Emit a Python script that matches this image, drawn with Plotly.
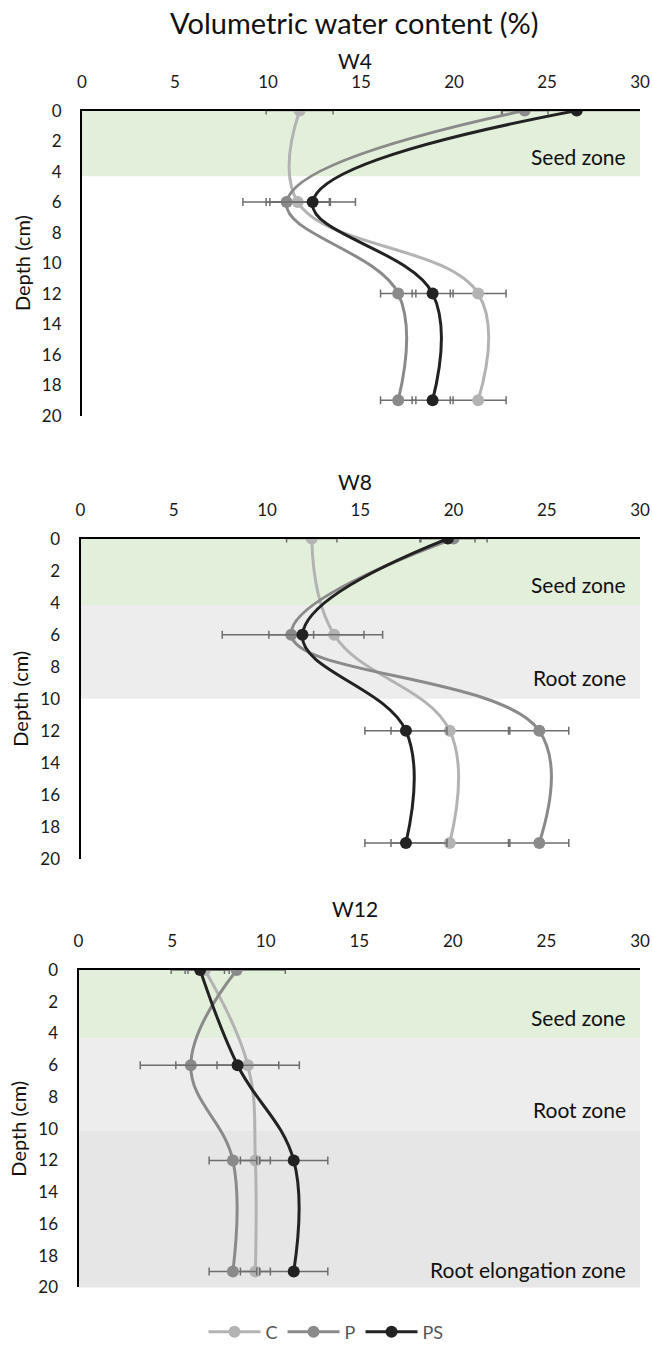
import plotly.graph_objects as go

W, H = 652, 1351
depth = [0, 6, 12, 19]

# W4
w4_C = [11.7, 11.6, 21.3, 21.3]
w4_P = [23.8, 11.0, 17.0, 17.0]
w4_PS = [26.6, 12.4, 18.85, 18.85]
w4_C_err = [1.8, 1.7, 1.5, 1.5]
w4_P_err = [1.25, 2.35, 0.95, 0.95]
w4_PS_err = [4.0, 2.3, 1.1, 1.1]

# W8
w8_C = [12.4, 13.6, 19.8, 19.8]
w8_P = [20.0, 11.3, 24.6, 24.6]
w8_PS = [19.7, 11.9, 17.45, 17.45]
w8_C_err = [1.35, 1.6, 3.15, 3.15]
w8_P_err = [1.8, 1.2, 1.58, 1.58]
w8_PS_err = [1.45, 4.3, 2.2, 2.2]

# W12
w12_C = [6.75, 9.05, 9.45, 9.45]
w12_P = [8.45, 6.0, 8.25, 8.25]
w12_PS = [6.5, 8.5, 11.5, 11.5]
w12_C_err = [1.05, 1.65, 0.8, 0.8]
w12_P_err = [2.6, 2.7, 1.27, 1.27]
w12_PS_err = [1.55, 3.3, 1.82, 1.82]

series_names = ["C", "P", "PS"]
colors = {"C": "#b3b3b3", "P": "#8a8a8a", "PS": "#222222"}

panels = [
    ("W4", (w4_C, w4_P, w4_PS), (w4_C_err, w4_P_err, w4_PS_err), 82, 111.5, 419, 61,
     [("Seed zone", 0, 4.3, "#e2efda", 3.0)]),
    ("W8", (w8_C, w8_P, w8_PS), (w8_C_err, w8_P_err, w8_PS_err), 80.5, 543, 866, 485,
     [("Seed zone", 0, 4.15, "#e2efda", 2.85), ("Root zone", 4.15, 10.0, "#ededed", 8.7)]),
    ("W12", (w12_C, w12_P, w12_PS), (w12_C_err, w12_P_err, w12_PS_err), 78.5, 978, 1298, 916,
     [("Seed zone", 0, 4.3, "#e2efda", 3.0), ("Root zone", 4.3, 10.15, "#ededed", 8.8),
      ("Root elongation zone", 10.15, 20.25, "#e7e6e6", 18.9)]),
]

FONT = "Lato, 'Open Sans', sans-serif"
fig = go.Figure()
shapes = []
annotations = [dict(text="Volumetric water content (%)", x=354 / W, y=1 - 23 / H, xref="paper", yref="paper",
                    showarrow=False, font=dict(size=29, color="#111", family=FONT), xanchor="center", yanchor="middle")]

for i, (name, vals, errs, xl, ytop, ybot, ytitle, zones) in enumerate(panels):
    k = "" if i == 0 else str(i + 1)
    xa, ya = "x" + k, "y" + k
    for s, v, e in zip(series_names, vals, errs):
        fig.add_trace(go.Scatter(
            x=v, y=depth, xaxis=xa, yaxis=ya, name=s, legendgroup=s, showlegend=(i == 0),
            mode="lines+markers", line=dict(color=colors[s], width=3, shape="spline", smoothing=1.15),
            marker=dict(color=colors[s], size=12),
            error_x=dict(type="data", array=e, visible=True, color="#6e6e6e", thickness=1.5, width=4),
        ))
    fig.layout["xaxis" + k] = dict(domain=[xl / W, 640 / W], range=[0, 30], side="top", anchor=ya,
                                   dtick=5, showgrid=False, zeroline=False, showline=True,
                                   linecolor="#000", linewidth=2, ticks="", ticklabelstandoff=14,
                                   automargin=False,
                                   tickfont=dict(size=17, color="#1a1a1a", family=FONT))
    fig.layout["yaxis" + k] = dict(domain=[1 - ybot / H, 1 - ytop / H], range=[20, 0], anchor=xa,
                                   dtick=2, showgrid=False, zeroline=False, showline=True,
                                   linecolor="#000", linewidth=2, ticks="", ticklabelstandoff=15,
                                   automargin=False,
                                   tickfont=dict(size=17, color="#1a1a1a", family=FONT),
                                   title=dict(text="Depth (cm)", font=dict(size=20, color="#111", family=FONT),
                                              standoff=6))
    for (zl, z0, z1, zc, zy) in zones:
        shapes.append(dict(type="rect", xref=xa, yref=ya, x0=0, x1=30, y0=z0, y1=z1,
                           fillcolor=zc, line=dict(width=0), layer="below"))
        annotations.append(dict(text=zl, x=628 / W, y=zy, xref="paper", yref=ya, showarrow=False,
                                xanchor="right", yanchor="middle", font=dict(size=21, color="#111", family=FONT)))
    annotations.append(dict(text=name, x=355 / W, y=1 - ytitle / H, xref="paper", yref="paper",
                            showarrow=False, font=dict(size=21, color="#111", family=FONT),
                            xanchor="center", yanchor="middle"))

fig.update_layout(
    width=W, height=H, margin=dict(l=0, r=0, t=0, b=0),
    paper_bgcolor="white", plot_bgcolor="rgba(0,0,0,0)",
    font=dict(family=FONT),
    shapes=shapes, annotations=annotations,
    legend=dict(orientation="h", x=326 / W, y=1 - 1343 / H, xanchor="center", yanchor="middle",
                font=dict(size=18, color="#555", family=FONT), itemwidth=52, tracegroupgap=0),
)
fig.write_html(
    "out.html",
    config={"displayModeBar": False},
    post_script=("document.documentElement.style.margin='0';document.documentElement.style.overflow='hidden';"
                 "document.body.style.margin='0';document.body.style.padding='0';"
                 "document.body.style.overflow='hidden';"
                 "var gd=document.getElementById('{plot_id}');gd.style.position='fixed';"
                 "gd.style.top='0px';gd.style.left='0px';"),
)
